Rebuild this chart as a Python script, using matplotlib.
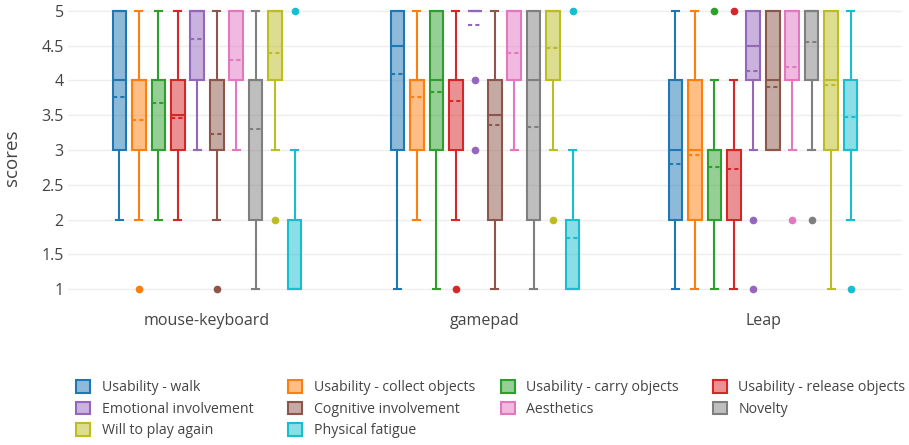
import matplotlib
matplotlib.use("Agg")
import matplotlib.pyplot as plt
from matplotlib.colors import to_rgba
from matplotlib.patches import Patch

plt.rcParams['font.family'] = ['Open Sans', 'DejaVu Sans']

groups = ['mouse-keyboard', 'gamepad', 'Leap']
series = ['Usability - walk', 'Usability - collect objects', 'Usability - carry objects',
          'Usability - release objects', 'Emotional involvement', 'Cognitive involvement',
          'Aesthetics', 'Novelty', 'Will to play again', 'Physical fatigue']
colors = ['#1f77b4', '#ff7f0e', '#2ca02c', '#d62728', '#9467bd',
          '#8c564b', '#e377c2', '#7f7f7f', '#bcbd22', '#17becf']

# per series: one tuple per group -> (whislo, q1, med, q3, whishi, mean)
stats = {
    'Usability - walk':            [(2, 3, 4, 5, 5, 3.76), (1, 3, 4.5, 5, 5, 4.10), (1, 2, 3, 4, 5, 2.80)],
    'Usability - collect objects': [(2, 3, 4, 4, 5, 3.43), (2, 3, 4, 4, 5, 3.76), (1, 2, 3, 4, 5, 2.93)],
    'Usability - carry objects':   [(2, 3, 4, 4, 5, 3.67), (1, 3, 4, 5, 5, 3.83), (1, 2, 3, 3, 4, 2.76)],
    'Usability - release objects': [(2, 3, 3.5, 4, 5, 3.46), (2, 3, 4, 4, 5, 3.70), (1, 2, 3, 3, 4, 2.73)],
    'Emotional involvement':       [(3, 4, 5, 5, 5, 4.60), (5, 5, 5, 5, 5, 4.80), (3, 4, 4.5, 5, 5, 4.13)],
    'Cognitive involvement':       [(2, 3, 4, 4, 5, 3.23), (1, 2, 3.5, 4, 5, 3.36), (3, 3, 4, 5, 5, 3.90)],
    'Aesthetics':                  [(3, 4, 5, 5, 5, 4.30), (3, 4, 5, 5, 5, 4.40), (3, 4, 5, 5, 5, 4.20)],
    'Novelty':                     [(1, 2, 4, 4, 5, 3.30), (1, 2, 4, 5, 5, 3.33), (3, 4, 5, 5, 5, 4.56)],
    'Will to play again':          [(3, 4, 5, 5, 5, 4.40), (3, 4, 5, 5, 5, 4.46), (1, 3, 4, 5, 5, 3.93)],
    'Physical fatigue':            [(1, 1, 1, 2, 3, 2.00), (1, 1, 1, 2, 3, 1.73), (2, 3, 3, 4, 5, 3.47)],
}
outliers = {
    'Usability - walk':            [[], [], []],
    'Usability - collect objects': [[1], [], []],
    'Usability - carry objects':   [[], [], [5]],
    'Usability - release objects': [[], [1], [5]],
    'Emotional involvement':       [[], [4, 3], [2, 1]],
    'Cognitive involvement':       [[1], [], []],
    'Aesthetics':                  [[], [], [2]],
    'Novelty':                     [[], [], [2]],
    'Will to play again':          [[2], [2], []],
    'Physical fatigue':            [[5], [5], [1]],
}

fig = plt.figure(figsize=(9.09, 4.45), dpi=100)
ax = fig.add_axes([68 / 909, 1 - 296 / 445, 834 / 909, 292 / 445])

n = len(series)
slot = 0.7 / n
width = slot * 0.7
for i, name in enumerate(series):
    c = colors[i]
    bstats = []
    for g in range(len(groups)):
        lo, q1, med, q3, hi, mean = stats[name][g]
        bstats.append(dict(whislo=lo, q1=q1, med=med, q3=q3, whishi=hi,
                           mean=mean, fliers=outliers[name][g]))
    pos = [g + (i - (n - 1) / 2) * slot for g in range(len(groups))]
    ax.bxp(bstats, positions=pos, widths=width, capwidths=width * 0.5,
           patch_artist=True, showmeans=True, meanline=True,
           boxprops=dict(facecolor=to_rgba(c, 0.5), edgecolor=c, linewidth=1.5),
           medianprops=dict(color=c, linewidth=1.5),
           meanprops=dict(color=c, linewidth=1.5, linestyle=(0, (2, 1.5))),
           whiskerprops=dict(color=c, linewidth=1.5),
           capprops=dict(color=c, linewidth=1.5),
           flierprops=dict(marker='o', markerfacecolor=c, markeredgecolor=c,
                           markersize=4.5, linestyle='none'))

ax.set_xlim(-0.5, len(groups) - 0.5)
ax.set_ylim(0.9, 5.1)
ax.set_xticks(range(len(groups)))
ax.set_xticklabels(groups)
ax.set_yticks([1, 1.5, 2, 2.5, 3, 3.5, 4, 4.5, 5])
ax.set_yticklabels(['1', '1.5', '2', '2.5', '3', '3.5', '4', '4.5', '5'])
ax.tick_params(axis='x', length=0, pad=12, labelsize=11.5)
ax.tick_params(axis='y', length=0, pad=3, labelsize=11.5)
for lab in ax.get_xticklabels() + ax.get_yticklabels():
    lab.set_color('#444444')
ax.grid(axis='y', color='#eeeeee', linewidth=1)
ax.set_axisbelow(True)
for s in ax.spines.values():
    s.set_visible(False)
ax.set_ylabel('scores', fontsize=13.5, color='#444444')
ax.yaxis.set_label_coords(-47 / 834, (296 - 158) / 292)

# legend: 4 fixed-width columns filled row by row
handles = [Patch(facecolor=to_rgba(c, 0.5), edgecolor=c, linewidth=1.5) for c in colors]
ncols = 4
col_left = [76, 288, 501, 713]
for col in range(ncols):
    idx = list(range(col, n, ncols))
    fig.legend([handles[k] for k in idx], [series[k] for k in idx],
               loc='upper left', bbox_to_anchor=(col_left[col] / 909, 1 - 380 / 445),
               frameon=False, fontsize=10.2, borderpad=0, borderaxespad=0,
               handlelength=1.0, handleheight=1.0, handletextpad=0.8,
               labelspacing=0.45, labelcolor='#444444')

fig.savefig('out.png', dpi=100)
